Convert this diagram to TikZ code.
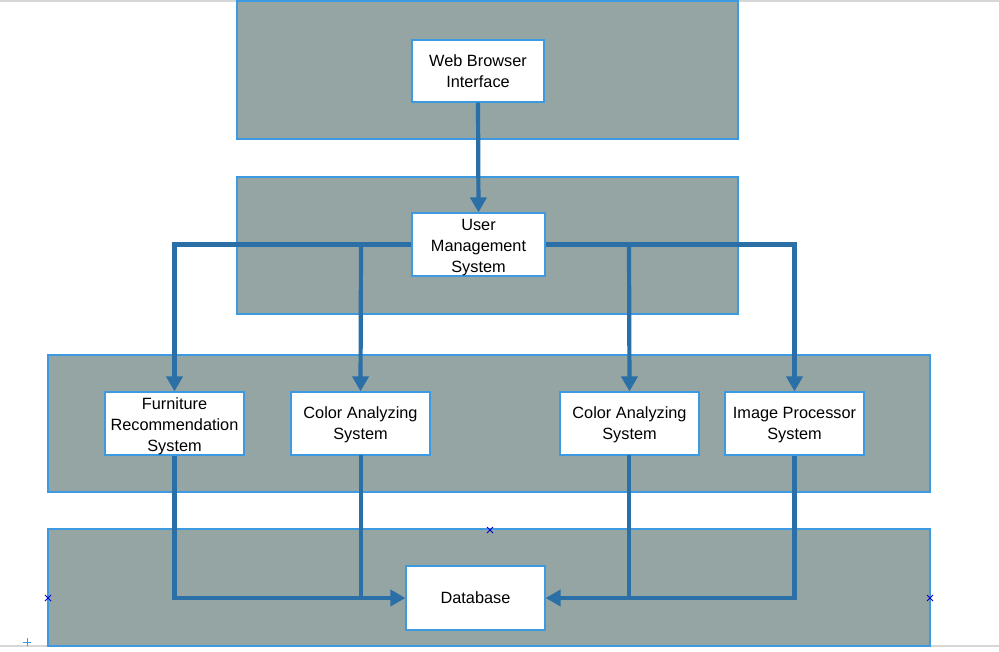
\documentclass[tikz,border=0pt]{standalone}
\usepackage{fontspec}
\setmainfont{Liberation Sans}
\usetikzlibrary{arrows.meta}
\definecolor{bandfill}{HTML}{95A5A4}
\definecolor{bandline}{HTML}{3D9AE0}
\definecolor{flow}{HTML}{2A6FA6}
\definecolor{frameline}{HTML}{D6D6D6}
\newcommand{\lowerby}{\rule{0pt}{17pt}}
\begin{document}
\begin{tikzpicture}[x=1pt,y=-1pt,
  band/.style={draw=bandline,fill=bandfill,line width=1.2pt},
  box/.style={draw=bandline,fill=white,line width=1.2pt,inner sep=0pt,
    font=\fontsize{16.3}{21}\selectfont,align=center},
  conn/.style={draw=flow,line width=4.2pt},
  arr/.style={conn,-{Triangle[length=15pt,width=16pt]}},
  handle/.style={draw=blue!80!black,line width=0.8pt}]
\useasboundingbox (0,0) rectangle (999,651);
\draw[frameline,line width=1.5pt] (0,0.75) -- (999,0.75);
\draw[frameline,line width=1.5pt] (0,646) -- (999,646);
% bands
\path[band] (237,1) rectangle (738,139);
\path[band] (237,177) rectangle (738,314);
\path[band] (48,355) rectangle (930,492);
\path[band] (48,529) rectangle (930,646);
% nodes
\node[box,minimum width=132pt,minimum height=62pt] (web) at (478,71) {Web Browser\\Interface};
\node[box,minimum width=133pt,minimum height=63pt] (ums) at (478.5,244.5) {\lowerby User\\Management\\System};
\node[box,minimum width=139pt,minimum height=63pt] (frs) at (174.5,423.5) {\lowerby Furniture\\Recommendation\\System};
\node[box,minimum width=139pt,minimum height=63pt] (cas1) at (360.5,423.5) {\rule{0pt}{14pt}Color Analyzing\\System};
\node[box,minimum width=139pt,minimum height=63pt] (cas2) at (629.5,423.5) {\rule{0pt}{14pt}Color Analyzing\\System};
\node[box,minimum width=139pt,minimum height=63pt] (ips) at (794.5,423.5) {\rule{0pt}{14pt}Image Processor\\System};
\node[box,minimum width=139pt,minimum height=64pt] (db) at (475.5,598) {Database};
% connectors
\draw[arr] (web.south) -- (ums.north);
\draw[arr] (ums.west) -| (frs.north);
\draw[arr] (361,245) -- (cas1.north);
\draw[arr] (ums.east) -| (ips.north);
\draw[arr] (629,245) -- (cas2.north);
\draw[arr] (frs.south) |- (db.west);
\draw[conn] (361,455) -- (361,598);
\draw[arr] (ips.south) |- (db.east);
\draw[conn] (629,455) -- (629,598);
% selection handles
\foreach \p in {(490,530),(48,598),(930,598)}{
  \draw[handle] \p ++(-3,-3) -- ++(6,6) \p ++(-3,3) -- ++(6,-6);
}
\draw[bandline,line width=0.8pt] (23,642) -- (31,642) (27,638) -- (27,646);
\end{tikzpicture}
\end{document}
